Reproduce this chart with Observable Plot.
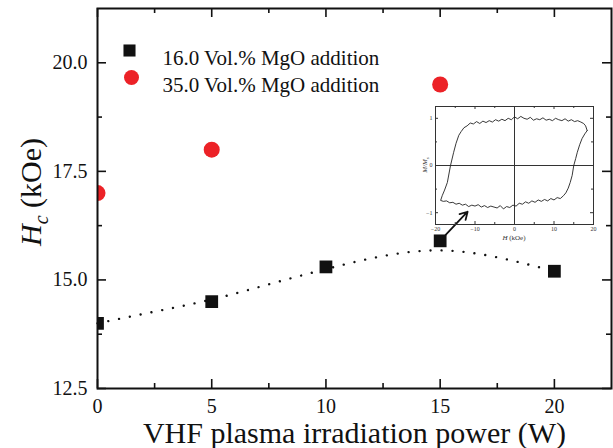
<!DOCTYPE html>
<html>
<head>
<meta charset="utf-8">
<script src="https://cdn.jsdelivr.net/npm/d3@7"></script>
<script src="https://cdn.jsdelivr.net/npm/@observablehq/plot@0.6"></script>
<style>
  body { margin: 0; background: #fff; }
  #wrap { position: relative; width: 613px; height: 448px; overflow: hidden; }
  #wrap svg { position: absolute; font-family: 'Liberation Serif', 'Times New Roman', serif; }
  #wrap svg text { font-family: 'Liberation Serif', 'Times New Roman', serif; }
</style>
</head>
<body>
<div id="wrap"></div>
<script>
// ---- Main chart data ----
const powerW = [0, 5, 10, 15, 20];
const hc16 = [14.0, 14.5, 15.3, 15.9, 15.2];
const power35 = [0, 5, 15];
const hc35 = [17.0, 18.0, 19.5];
const fitX = [0, 2.5, 5, 7.5, 10, 12.5, 15, 17.5, 20];
const fitY = [14.0, 14.27, 14.55, 14.9, 15.25, 15.55, 15.68, 15.52, 15.2];
const seriesNames = ["16.0 Vol.% MgO addition", "35.0 Vol.% MgO addition"];
const xMajorTicks = [0, 5, 10, 15, 20];
const xMinorTicks = [2.5, 7.5, 12.5, 17.5];
const yMajorTicks = [12.5, 15.0, 17.5, 20.0];
const yMinorTicks = [13.75, 16.25, 18.75];
const xTitle = "VHF plasma irradiation power (W)";
// arrow from the 15 W point to the inset loop
const arrowFrom = [15.24, 16.04];
const arrowTo = [16.2, 16.57];

// ---- Inset (hysteresis loop) data ----
const upperH = [18.4, 18.0, 17.5, 16.8, 16.0, 15.2, 14.4, 13.6, 12.8, 12.0, 11.2, 10.4, 9.6, 8.8, 8.0, 7.2, 6.4, 5.6, 4.8, 4.0, 3.2, 2.4, 1.6, 0.8, 0.0, -0.8, -1.6, -2.4, -3.2, -4.0, -4.8, -5.6, -6.4, -7.2, -8.0, -8.8, -9.6, -10.4, -11.2, -12.0, -12.8, -13.5, -14.1, -14.8, -15.4, -16.2, -17.0, -17.7, -18.3, -18.7];
const upperM = [0.74, 0.84, 0.89, 0.92, 0.95, 0.93, 0.97, 0.94, 0.99, 0.95, 0.97, 1.0, 0.95, 0.98, 0.96, 1.01, 0.97, 0.99, 0.96, 1.02, 0.98, 1.0, 1.04, 0.99, 1.03, 0.97, 1.0, 0.95, 0.98, 0.94, 0.97, 0.92, 0.95, 0.91, 0.94, 0.89, 0.93, 0.88, 0.9, 0.84, 0.8, 0.72, 0.64, 0.47, 0.28, 0.0, -0.36, -0.52, -0.64, -0.74];
const lowerH = [-18.7, -18.0, -17.2, -16.4, -15.6, -14.8, -14.0, -13.2, -12.4, -11.6, -10.8, -10.0, -9.2, -8.4, -7.6, -6.8, -6.0, -5.2, -4.4, -3.6, -2.8, -2.0, -1.2, -0.4, 0.4, 1.2, 2.0, 2.8, 3.6, 4.4, 5.2, 6.0, 6.8, 7.6, 8.4, 9.2, 10.0, 10.8, 11.6, 12.4, 13.0, 13.6, 14.1, 14.6, 15.0, 15.5, 15.9, 16.5, 17.1, 17.8, 18.4];
const lowerM = [-0.74, -0.76, -0.75, -0.79, -0.78, -0.82, -0.8, -0.84, -0.82, -0.87, -0.84, -0.86, -0.83, -0.88, -0.85, -0.89, -0.86, -0.88, -0.9, -0.85, -0.92, -0.87, -0.89, -0.84, -0.86, -0.8, -0.82, -0.77, -0.8, -0.75, -0.78, -0.73, -0.76, -0.72, -0.75, -0.7, -0.73, -0.68, -0.7, -0.64, -0.58, -0.48, -0.36, -0.21, 0.0, 0.15, 0.28, 0.44, 0.57, 0.67, 0.74];
const insetXTicks = [-20, -10, 0, 10, 20];
const insetXMinor = [-15, -5, 5, 15];
const insetYTicks = [-1, 0, 1];
const insetYMinor = [-0.5, 0.5];

// ---- build tables ----
const s16 = powerW.map((x, i) => ({x, y: hc16[i]}));
const s35 = power35.map((x, i) => ({x, y: hc35[i]}));
const fit = fitX.map((x, i) => ({x, y: fitY[i]}));
const loop = upperH.map((h, i) => ({h, m: upperM[i]}))
  .concat(lowerH.map((h, i) => ({h, m: lowerM[i]})));

const FONT = "'Liberation Serif', 'Times New Roman', serif";
const RED = "#ec2227";
const W = 613, H = 448, ML = 97, MR = 2, MT = 8, MB = 60;
const FW = W - ML - MR, FH = H - MT - MB;

const main = Plot.plot({
  width: W, height: H,
  marginLeft: ML, marginRight: MR, marginTop: MT, marginBottom: MB,
  style: {fontFamily: FONT, background: "white", color: "#111"},
  x: {domain: [0, 22.5]},
  y: {domain: [12.5, 21.25]},
  marks: [
    // inward ticks
    Plot.tickX(xMajorTicks, {x: d => d, insetTop: FH - 9, strokeWidth: 1.6}),
    Plot.tickX(xMinorTicks, {x: d => d, insetTop: FH - 5, strokeWidth: 1.6}),
    Plot.tickX(xMajorTicks, {x: d => d, insetBottom: FH - 9, strokeWidth: 1.6}),
    Plot.tickX(xMinorTicks, {x: d => d, insetBottom: FH - 5, strokeWidth: 1.6}),
    Plot.tickY(yMajorTicks, {y: d => d, insetRight: FW - 9, strokeWidth: 1.6}),
    Plot.tickY(yMinorTicks, {y: d => d, insetRight: FW - 5, strokeWidth: 1.6}),
    Plot.tickY(yMajorTicks, {y: d => d, insetLeft: FW - 9, strokeWidth: 1.6}),
    Plot.tickY(yMinorTicks, {y: d => d, insetLeft: FW - 5, strokeWidth: 1.6}),
    Plot.axisX({ticks: xMajorTicks, tickSize: 0, tickPadding: 10, fontSize: 20, fontFamily: FONT, label: null, tickFormat: d3.format("d")}),
    Plot.axisY({ticks: yMajorTicks, tickSize: 0, tickPadding: 10, fontSize: 20, fontFamily: FONT, label: null, tickFormat: d3.format(".1f")}),
    Plot.text([xTitle], {frameAnchor: "bottom", dy: 54, lineAnchor: "bottom", fontSize: 30, fontFamily: FONT, text: d => d, fill: "#111"}),
    // fitted dotted curve
    Plot.line(fit, {x: "x", y: "y", curve: "natural", stroke: "#111", strokeWidth: 2.4,
      strokeDasharray: "0.01,11", strokeLinecap: "round"}),
    // arrow
    Plot.arrow([0], {x1: () => arrowFrom[0], y1: () => arrowFrom[1], x2: () => arrowTo[0], y2: () => arrowTo[1],
      stroke: "#111", strokeWidth: 1.8, headLength: 7}),
    // data
    Plot.dot(s16, {x: "x", y: "y", symbol: "square", r: 7.2, fill: "#111", clip: true}),
    Plot.dot(s35, {x: "x", y: "y", symbol: "circle", r: 8, fill: RED, clip: true}),
    // legend
    Plot.dot([0], {frameAnchor: "top-left", dx: 32, dy: 42, symbol: "square", r: 6.8, fill: "#111"}),
    Plot.dot([0], {frameAnchor: "top-left", dx: 34, dy: 69, symbol: "circle", r: 7.5, fill: RED}),
    Plot.text([seriesNames[0]], {frameAnchor: "top-left", dx: 65, dy: 42, textAnchor: "start", fontSize: 21, fontFamily: FONT, text: d => d, fill: "#111"}),
    Plot.text([seriesNames[1]], {frameAnchor: "top-left", dx: 65, dy: 69, textAnchor: "start", fontSize: 21, fontFamily: FONT, text: d => d, fill: "#111"}),
    Plot.frame({stroke: "#111", strokeWidth: 2})
  ]
});
main.style.left = "0px"; main.style.top = "0px";

// y-axis title with italic H and subscript c
const ylab = d3.select(main).append("text")
  .attr("transform", "translate(41,192) rotate(-90)")
  .attr("text-anchor", "middle")
  .attr("font-family", FONT)
  .attr("font-size", 30)
  .attr("fill", "#111");
ylab.append("tspan").attr("font-style", "italic").text("H");
ylab.append("tspan").attr("font-style", "italic").attr("font-size", 20).attr("dy", 7).text("c");
ylab.append("tspan").attr("dy", -7).text(" (kOe)");

// ---- inset ----
const IW = 185, IH = 145, IML = 15, IMR = 12, IMT = 6, IMB = 21;
const IFW = IW - IML - IMR, IFH = IH - IMT - IMB;
const inset = Plot.plot({
  width: IW, height: IH,
  marginLeft: IML, marginRight: IMR, marginTop: IMT, marginBottom: IMB,
  style: {fontFamily: FONT, background: "transparent", overflow: "visible", color: "#333"},
  x: {domain: [-20, 20]},
  y: {domain: [-1.25, 1.25]},
  marks: [
    Plot.ruleX([0], {stroke: "#333", strokeWidth: 1}),
    Plot.ruleY([0], {stroke: "#333", strokeWidth: 1}),
    Plot.tickX(insetXTicks, {x: d => d, insetTop: IFH - 3, stroke: "#333"}),
    Plot.tickX(insetXMinor, {x: d => d, insetTop: IFH - 2, stroke: "#333"}),
    Plot.tickX(insetXTicks, {x: d => d, insetBottom: IFH - 3, stroke: "#333"}),
    Plot.tickX(insetXMinor, {x: d => d, insetBottom: IFH - 2, stroke: "#333"}),
    Plot.tickY(insetYTicks, {y: d => d, insetRight: IFW - 3, stroke: "#333"}),
    Plot.tickY(insetYMinor, {y: d => d, insetRight: IFW - 2, stroke: "#333"}),
    Plot.tickY(insetYTicks, {y: d => d, insetLeft: IFW - 3, stroke: "#333"}),
    Plot.tickY(insetYMinor, {y: d => d, insetLeft: IFW - 2, stroke: "#333"}),
    Plot.line(loop, {x: "h", y: "m", stroke: "#222", strokeWidth: 0.9, curve: "linear"}),
    Plot.axisX({ticks: insetXTicks, tickSize: 0, tickPadding: 2, fontSize: 6, fontFamily: FONT, label: null, tickFormat: d3.format("d")}),
    Plot.axisY({ticks: insetYTicks, tickSize: 0, tickPadding: 3, fontSize: 6, fontFamily: FONT, label: null, tickFormat: d3.format("d")}),
    Plot.frame({stroke: "#333", strokeWidth: 1})
  ]
});
inset.style.left = "420px"; inset.style.top = "100px";
const ixl = d3.select(inset).append("text")
  .attr("x", IML + IFW / 2).attr("y", IH - 5)
  .attr("text-anchor", "middle").attr("font-family", FONT).attr("font-size", 7).attr("fill", "#333");
ixl.append("tspan").attr("font-style", "italic").text("H");
ixl.append("tspan").text(" (kOe)");
const iyl = d3.select(inset).append("text")
  .attr("transform", `translate(7,${IMT + IFH / 2}) rotate(-90)`)
  .attr("text-anchor", "middle").attr("font-family", FONT).attr("font-size", 7).attr("fill", "#333");
iyl.append("tspan").attr("font-style", "italic").text("M/M");
iyl.append("tspan").attr("font-style", "italic").attr("font-size", 5).attr("dy", 2).text("s");

const wrap = document.getElementById("wrap");
wrap.appendChild(main);
wrap.appendChild(inset);
</script>
</body>
</html>
